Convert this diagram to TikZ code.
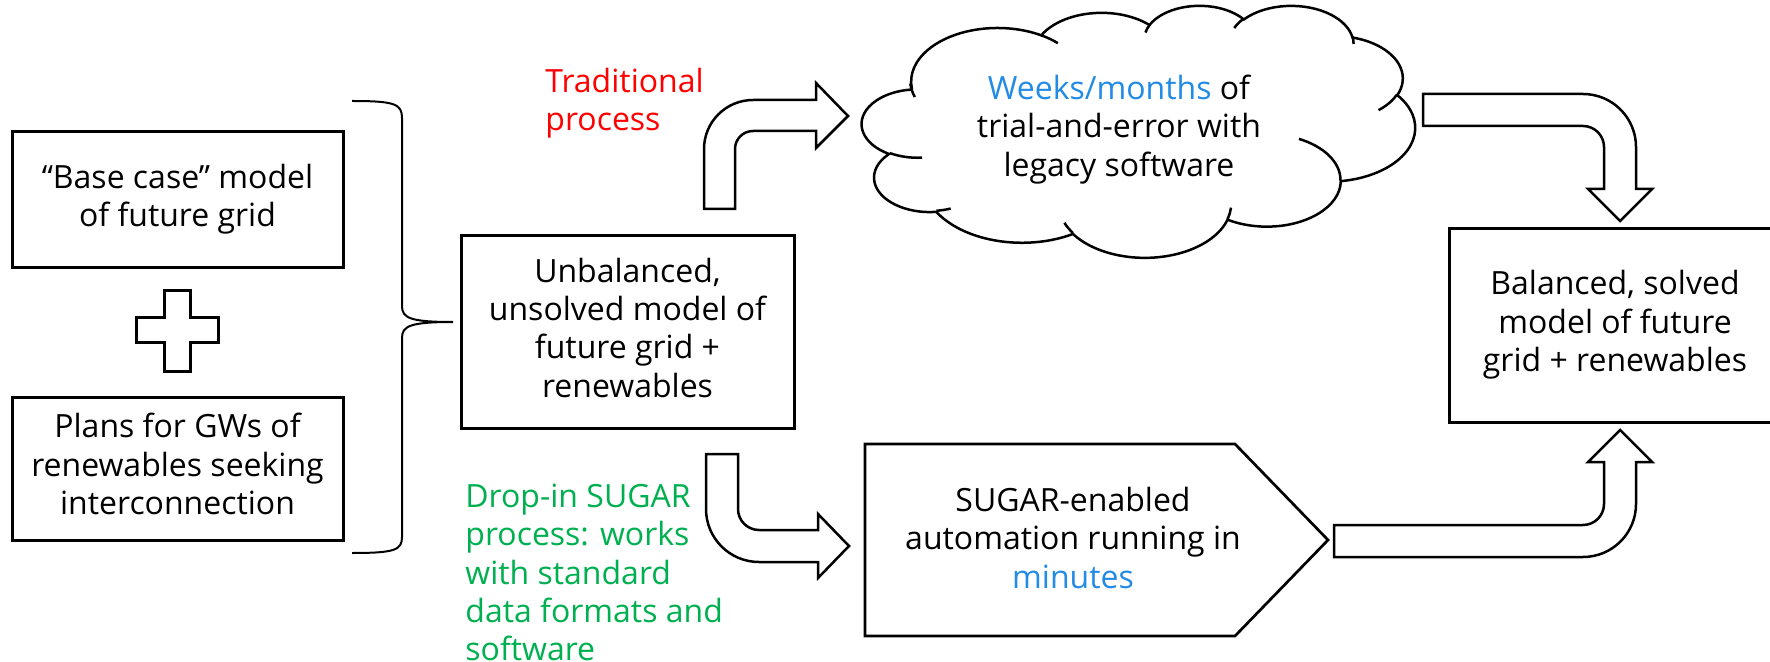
\documentclass[tikz,border=0pt]{standalone}
\usepackage{fontspec}
\setmainfont{Open Sans}
\definecolor{tradred}{RGB}{255,0,0}
\definecolor{sugargreen}{RGB}{0,176,80}
\definecolor{timeblue}{RGB}{34,139,230}
% One puff of the cloud outline: x radius, y radius, start angle and sweep,
% the angles measured to the point on the ellipse (converted to parametric ones).
\newcommand\puff[4]{%
  \pgfextra{%
    \pgfmathparse{atan2((#1)*sin(#3),(#2)*cos(#3))}\xdef\puffa{\pgfmathresult}%
    \pgfmathparse{atan2((#1)*sin((#3)+(#4)),(#2)*cos((#3)+(#4)))}\xdef\puffb{\pgfmathresult}%
    \pgfmathparse{mod(\puffb-\puffa+720,360)}\xdef\puffd{\pgfmathresult}%
  }%
  arc[start angle=\puffa, delta angle=\puffd, x radius=#1, y radius=#2]}
\begin{document}
\begin{tikzpicture}[x=0.5pt, y=-0.5pt, line join=miter,
  font=\fontsize{16}{19.2}\selectfont,
  box/.style={draw, line width=1.5pt, inner sep=0pt, align=center},
  txt/.style={inner sep=0pt, align=center},
  blockarrow/.style={draw, line width=1.25pt, fill=white},
  cloudline/.style={draw, line width=1.25pt}]
\useasboundingbox (0,0) rectangle (1770,662);

% input boxes
\node[box, minimum width=165.5pt, minimum height=68pt] (base) at (177.5,200)
  {\strut “Base case” model\\\strut of future grid};
\node[box, minimum width=165.5pt, minimum height=71.5pt] (plans) at (177.5,468.5)
  {\strut Plans for GWs of\\\strut renewables seeking\\\strut interconnection};

% plus sign between them
\draw[line width=1.5pt] (164,291) -- (190,291) -- (190,318) -- (218,318) -- (218,343)
  -- (190,343) -- (190,371) -- (164,371) -- (164,343) -- (136,343) -- (136,318)
  -- (164,318) -- cycle;

% curly brace gathering both inputs
\draw[line width=1pt] (352,101) .. controls (395,101) and (402,104) .. (402,118)
  -- (402,306) .. controls (402,318) and (410,322) .. (453,322)
  .. controls (410,322) and (402,326) .. (402,338)
  -- (402,537) .. controls (402,550) and (395,553) .. (352,553);

% combined model
\node[box, minimum width=166.5pt, minimum height=96pt] (unbal) at (627.5,332)
  {\strut Unbalanced,\\\strut unsolved model of\\\strut future grid +\\\strut renewables};

% result
\node[box, minimum width=166pt, minimum height=96.5pt] (solved) at (1615,325.5)
  {\strut Balanced, solved\\\strut model of future\\\strut grid + renewables};

% process labels
\node[anchor=north west, inner sep=0pt, align=left, text=tradred] (trad) at (545,65)
  {\strut Traditional\\\strut process};
\node[anchor=north west, inner sep=0pt, align=left, text=sugargreen] (drop) at (465,480)
  {\strut Drop-in SUGAR\\\strut process: works\\\strut with standard\\\strut data formats and\\\strut software};

% cloud: traditional trial-and-error
\begin{scope}[shift={(862,5)}, xscale=553/4320, yscale=252/4320]
  \path[cloudline, fill=white] (390,1437)
    \puff{675.3}{919.0}{-190.4875}{123.7805}
    \puff{533.3}{726.7}{-144.1024}{89.9452}
    \puff{436.5}{594.5}{-145.8079}{99.7230}
    \puff{485.7}{659.5}{-130.9861}{117.2417}
    \puff{533.3}{727.3}{-78.7089}{109.0269}
    \puff{677.5}{922.0}{-46.2673}{130.2690}
    \puff{578.5}{786.7}{0.6250}{114.0333}
    \puff{675.2}{921.5}{22.4516}{115.1726}
    \puff{772.0}{1054.3}{66.2426}{75.7110}
    \puff{436.0}{591.8}{-274.9421}{146.7356}
    \puff{434.5}{594.5}{-246.8285}{152.5189} -- cycle;
  \path[cloudline]
    (469.3,2617.7) \puff{434.5}{594.5}{86.7420}{26.4295}
    (692.8,3489.9) \puff{436.0}{591.8}{73.6105}{11.4475}
    (1647.8,3909.0) \puff{675.2}{921.5}{137.6242}{14.0811}
    (2882.7,3475.1) \puff{675.2}{921.5}{6.4533}{15.9984}
    (3412.9,2295.4) \puff{578.5}{786.7}{-70.2924}{70.9174}
    (4179.8,1535.4) \puff{533.3}{727.3}{30.3180}{27.7515}
    (3832.4,542.6) \puff{485.7}{659.5}{-13.7443}{14.8589}
    (2907.8,395.2) \puff{485.7}{659.5}{-149.1815}{18.1954}
    (2214.1,472.0) \puff{436.5}{594.5}{-163.4943}{17.6864}
    (1400.0,519.2) \puff{675.3}{919.0}{-66.7070}{12.3194}
    (412.7,1578.9) \puff{675.3}{919.0}{154.8200}{19.4252};
\end{scope}
\node[txt] (legacy) at (1119,130)
  {\strut\textcolor{timeblue}{Weeks/months} of\\\strut trial-and-error with\\\strut legacy software};

% SUGAR automation step
\draw[line width=1.35pt] (865,444) -- (1235,444) -- (1328,540) -- (1235,636) -- (865,636) -- cycle;
\node[txt] (sugar) at (1073,542)
  {\strut SUGAR-enabled\\\strut automation running in\\\strut\textcolor{timeblue}{minutes}};

% bent block arrows
\draw[blockarrow] (704,209) -- (704,149) arc[start angle=180, end angle=270, radius=49]
  -- (816,100) -- (816,83) -- (848,116) -- (816,148) -- (816,131) -- (753,131)
  arc[start angle=270, end angle=180, radius=18] -- (735,209) -- cycle;

\draw[blockarrow] (1423,94) -- (1583,94) arc[start angle=270, end angle=360, radius=53]
  -- (1636,189) -- (1652,189) -- (1620,221) -- (1588,189) -- (1604,189) -- (1604,147)
  arc[start angle=0, end angle=-90, radius=21] -- (1423,126) -- cycle;

\draw[blockarrow] (706,454) -- (706,509) arc[start angle=180, end angle=90, radius=53]
  -- (818,562) -- (818,578) -- (849,546) -- (818,514) -- (818,530) -- (759,530)
  arc[start angle=90, end angle=180, radius=21] -- (738,454) -- cycle;

\draw[blockarrow] (1334,557) -- (1583,557) arc[start angle=90, end angle=0, radius=53]
  -- (1636,462) -- (1652,462) -- (1620,430) -- (1588,462) -- (1604,462) -- (1604,504)
  arc[start angle=0, end angle=90, radius=21] -- (1334,525) -- cycle;
\end{tikzpicture}
\end{document}
